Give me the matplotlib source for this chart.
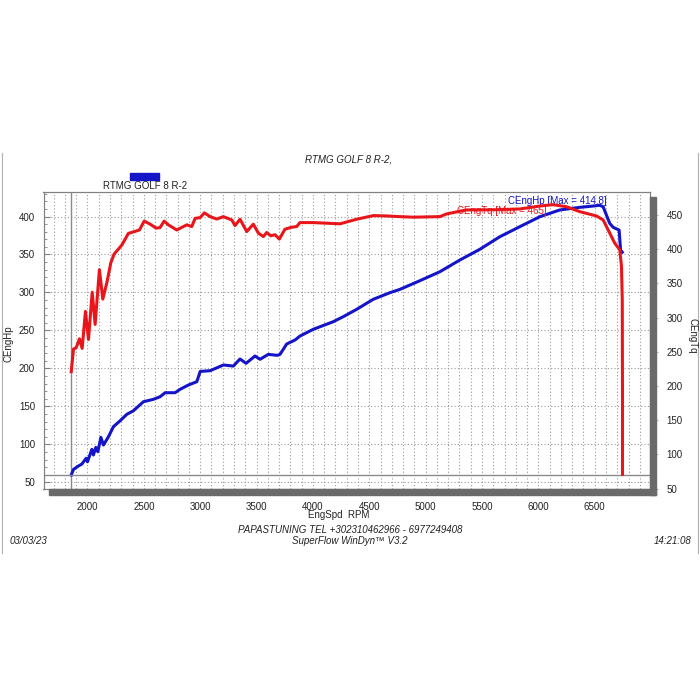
#!/usr/bin/env python3
# -*- coding: utf-8 -*-
"""
plot.py - SuperFlow WinDyn style dyno sheet (RTMG GOLF 8 R-2)
Blue = CEngHp (left axis), red = CEngTq (right axis)
"""

import matplotlib
matplotlib.use("Agg")
import matplotlib.pyplot as plt
from matplotlib.patches import Rectangle
from matplotlib.lines import Line2D
from matplotlib.ticker import MultipleLocator

plt.rcParams['font.family'] = ['Liberation Sans', 'DejaVu Sans']

# --- data ---
hp_rpm = [1856, 1876, 1920, 1950, 1988, 2000, 2039, 2053, 2074, 2092, 2119, 2142,
          2186, 2230, 2290, 2349, 2408, 2496, 2585, 2644, 2689, 2777, 2822, 2895,
          2970, 3000, 3088, 3206, 3294, 3353, 3407, 3486, 3531, 3604, 3684, 3708,
          3767, 3841, 3885, 4003, 4180, 4269, 4388, 4535, 4683, 4772, 4949, 5126,
          5303, 5480, 5658, 5835, 6012, 6189, 6367, 6485, 6544, 6574, 6633, 6663,
          6716, 6729, 6744]
hp_vals = [59.6, 67, 71.5, 74, 81.6, 77, 93.4, 86, 96, 90.3, 109.2, 99.1,
           110, 123.2, 131.1, 139.5, 144.3, 156.1, 159.3, 162.7, 168, 168, 172.5, 178.1,
           182.5, 196, 197, 204.5, 203.1, 212.4, 206.7, 216.3, 212, 218.5, 217.2, 218.5,
           232.1, 237.4, 242.6, 251.5, 261.5, 268.1, 277.8, 291, 299.7, 304.1, 315.5, 327.3,
           342.7, 356.8, 373.4, 386.6, 399.7, 408.6, 412.1, 413.8, 414.8, 412.9, 391, 385.8,
           382.2, 355.9, 353]

tq_rpm = [1856, 1876, 1900, 1929, 1953, 1982, 2009, 2042, 2068, 2106, 2136, 2172,
          2207, 2237, 2305, 2363, 2423, 2461, 2503, 2556, 2609, 2644, 2680, 2718,
          2792, 2881, 2925, 2955, 2999, 3037, 3088, 3147, 3205, 3280, 3309, 3353,
          3413, 3471, 3516, 3560, 3590, 3626, 3664, 3702, 3752, 3812, 3856, 3885,
          4003, 4240, 4388, 4535, 4654, 4772, 4890, 5126, 5186, 5363, 5600, 5835,
          6012, 6130, 6249, 6367, 6515, 6574, 6633, 6677, 6722, 6737, 6744, 6746, 6746]
tq_vals = [221, 254, 256, 269, 255, 309, 268, 337, 290, 370, 327, 351,
           380, 393, 406, 423, 426, 428, 441, 436.5, 430.7, 431.5, 441, 435.5,
           428, 435.5, 433, 445, 446, 453, 447.5, 444, 447.5, 442.7, 434.4, 443.7,
           425.7, 436.5, 423.4, 418.4, 424.3, 419.5, 421, 414.7, 429.2, 432, 433, 438.8,
           438.8, 437, 443.7, 449, 448.5, 447.5, 446.7, 447.5, 451.5, 457.3, 457.5, 458.7,
           463, 465, 462, 454.8, 448.5, 442.7, 423.4, 408.8, 399, 374.8, 326, 181, 71]

hp_max = 414.8
tq_max = 465
run_start_rpm = 1855
tq_floor = 70

x_ticks = [2000, 2500, 3000, 3500, 4000, 4500, 5000, 5500, 6000, 6500]
hp_ticks = [50, 100, 150, 200, 250, 300, 350, 400]
tq_ticks = [50, 100, 150, 200, 250, 300, 350, 400, 450]

run_name = "RTMG GOLF 8 R-2"
BLUE = '#1414c8'
RED = '#e8161b'
GRID = '#9a9a9a'
TXT = '#222222'
FS = 7


def px(x, y):
    """pixel position on the 700x700 sheet -> figure fraction"""
    return x / 700.0, 1 - y / 700.0


def main():
    fig = plt.figure(figsize=(7, 7), dpi=100)
    fig.patch.set_facecolor('white')

    # drop shadow of the plot frame
    sx, sy = px(650, 495)
    fig.patches.append(Rectangle((sx, sy), 6 / 700, 298 / 700, transform=fig.transFigure,
                                 color='#6a6a6a', zorder=0))
    sx, sy = px(49, 495)
    fig.patches.append(Rectangle((sx, sy), 607 / 700, 6 / 700, transform=fig.transFigure,
                                 color='#6a6a6a', zorder=0))

    # thin sheet border lines
    for xp in (1.5, 698):
        fig.add_artist(Line2D([xp / 700, xp / 700], [1 - 153 / 700, 1 - 553 / 700],
                              transform=fig.transFigure, color='#b0b0b0', lw=0.8))

    ax = fig.add_axes([43.5 / 700, 1 - 489 / 700, 606.5 / 700, 297 / 700])
    ax2 = ax.twinx()

    ax.set_xlim(1610, 6990)
    ax.set_ylim(41.2, 432.3)
    ax2.set_ylim(49.5, 483.5)

    # grid: every 100 rpm vertical, every 50 hp horizontal
    ax.xaxis.set_minor_locator(MultipleLocator(100))
    ax.set_xticks(x_ticks)
    ax.set_yticks(hp_ticks)
    ax.yaxis.set_minor_locator(MultipleLocator(10))
    ax.grid(True, which='both', axis='x', color=GRID, ls=(0, (1, 2)), lw=0.8)
    ax.grid(True, which='major', axis='y', color=GRID, ls=(0, (1, 2)), lw=0.8)
    ax.set_axisbelow(True)

    ax.axvline(run_start_rpm, color='#8a8a8a', lw=1.0, zorder=1)
    ax2.axhline(tq_floor, color='#8a8a8a', lw=1.0, zorder=1)

    ax.plot(hp_rpm, hp_vals, color=BLUE, lw=2.2, zorder=3, solid_joinstyle='round')
    ax2.plot(tq_rpm, tq_vals, color=RED, lw=2.2, zorder=3, solid_joinstyle='round')

    ax2.set_yticks(tq_ticks)

    for s in list(ax.spines.values()) + list(ax2.spines.values()):
        s.set_color('#808080')
        s.set_linewidth(0.8)

    ax.tick_params(axis='x', which='both', length=0, pad=9, labelsize=FS, labelcolor=TXT)
    ax.tick_params(axis='y', which='major', direction='in', length=4, pad=6,
                   labelsize=FS, labelcolor=TXT, color='#808080')
    ax.tick_params(axis='y', which='minor', direction='in', length=2, color='#808080')
    ax2.tick_params(axis='y', direction='out', length=6, pad=6, labelsize=FS,
                    labelcolor=TXT, color='#b0b0b0')

    ax.set_xlabel('EngSpd  RPM', fontsize=FS, color=TXT, labelpad=0)
    ax.xaxis.set_label_coords((339 - 43.5) / 606.5, -(510.5 - 489) / 297)

    # axis titles placed on the sheet
    fig.text(*px(9, 344), 'CEngHp', fontsize=FS, color=TXT, rotation=90,
             ha='center', va='center')
    fig.text(*px(692, 336), 'CEngTq', fontsize=FS, color=TXT, rotation=270,
             ha='center', va='center')

    # max annotations
    ax.text(6607, 420.8, f'CEngHp [Max = {hp_max}]', color=BLUE, fontsize=FS,
            ha='right', va='center', zorder=4)
    ax2.text(6075, 455.8, f'CEngTq [Max = {tq_max}]', color=RED, fontsize=FS,
             ha='right', va='center', zorder=4)

    # header and legend
    fig.text(*px(349, 160), run_name + ',', fontsize=FS, style='italic', color=TXT,
             ha='center', va='center')
    lx, ly = px(130, 179.5)
    fig.patches.append(Rectangle((lx, ly), 29 / 700, 7 / 700, transform=fig.transFigure,
                                 color=BLUE))
    fig.text(*px(145, 186), run_name, fontsize=FS, color=TXT, ha='center', va='center')

    # footer
    fig.text(*px(350, 530.3), 'PAPASTUNING TEL +302310462966 - 6977249408', fontsize=FS,
             style='italic', color=TXT, ha='center', va='center')
    fig.text(*px(350, 540.7), 'SuperFlow WinDyn\u2122 V3.2', fontsize=FS,
             style='italic', color=TXT, ha='center', va='center')
    fig.text(*px(10, 541), '03/03/23', fontsize=FS, style='italic', color=TXT,
             ha='left', va='center')
    fig.text(*px(691, 541), '14:21:08', fontsize=FS, style='italic', color=TXT,
             ha='right', va='center')

    fig.savefig('out.png', dpi=100, facecolor='white')
    plt.close(fig)


if __name__ == "__main__":
    main()
